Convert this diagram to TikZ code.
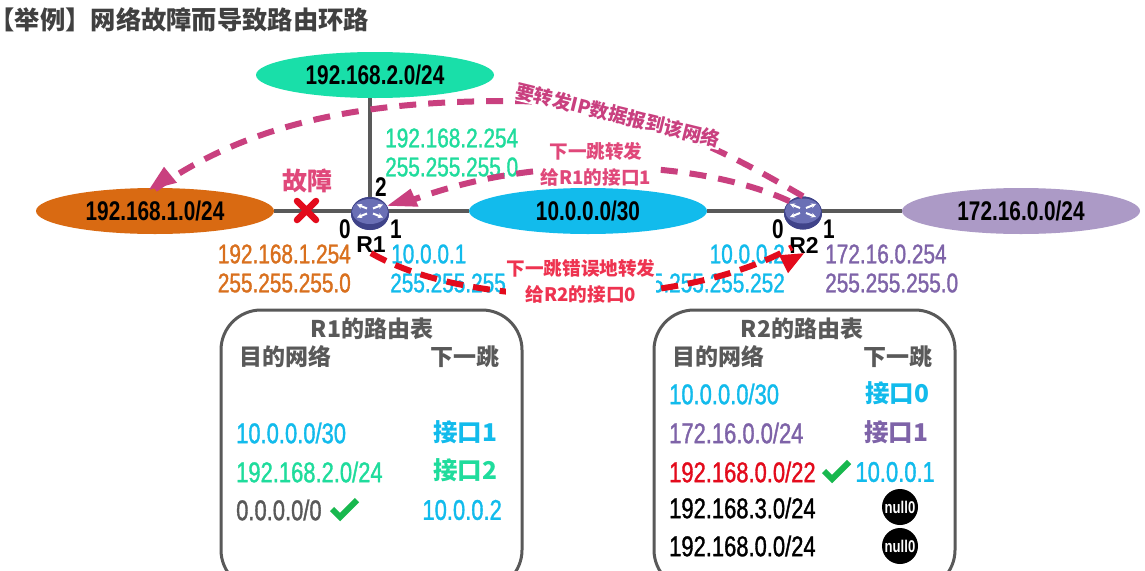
\documentclass[tikz,border=0pt]{standalone}
\usepackage{fontspec}
\setmainfont{Liberation Sans}
\newfontfamily\nar[FakeStretch=0.77]{Liberation Sans}
\newfontfamily\narm[FakeStretch=0.77,FakeBold=1.2]{Liberation Sans}
\newfontfamily\cjk{Noto Sans CJK SC}
\newfontfamily\cjkh[RawFeature=+halt]{Noto Sans CJK SC}
\usetikzlibrary{shapes.geometric,arrows.meta}
\definecolor{cgreen}{HTML}{19DFA9}
\definecolor{corange}{HTML}{D96A12}
\definecolor{cblue}{HTML}{12BBEC}
\definecolor{cpurple}{HTML}{AC9AC6}
\definecolor{tgreen}{HTML}{1FDC9C}
\definecolor{torange}{HTML}{D9701E}
\definecolor{tpurple}{HTML}{7E63A8}
\definecolor{cgray}{HTML}{595959}
\definecolor{cpink}{HTML}{C9407F}
\definecolor{lpink}{HTML}{E0487A}
\definecolor{cred}{HTML}{E30B1C}
\definecolor{lred}{HTML}{EE3350}
\definecolor{ctick}{HTML}{18B84E}
\definecolor{crouter}{HTML}{3F4389}
\definecolor{crouterb}{HTML}{6A6FB5}
\tikzset{
 x=1pt,y=-1pt,
 net/.style={ellipse,minimum width=238pt,minimum height=46pt,inner sep=0pt,text=black,font={\nar\fontsize{27}{27}\selectfont\bfseries}},
 wire/.style={draw=cgray,line width=4pt},
 iplabel/.style={anchor=west,inner sep=0pt,font={\narm\fontsize{27}{27}\selectfont}},
 iplabelr/.style={iplabel,anchor=east},
 rowlabel/.style={anchor=west,inner sep=0pt,font={\narm\fontsize{28.5}{28.5}\selectfont}},
 portnum/.style={inner sep=0pt,text=black,font={\nar\fontsize{27}{27}\selectfont\bfseries}},
 rname/.style={inner sep=0pt,text=black,font={\fontsize{23}{23}\selectfont\bfseries}},
 routerbody/.style={ellipse,minimum width=38pt,minimum height=33pt,inner sep=0pt,fill=crouter},
 tablebox/.style={draw=cgray,line width=3pt,rounded corners=40pt},
 thead/.style={inner sep=0pt,text=cgray,font={\cjk\fontsize{23}{23}\selectfont\bfseries}},
 port/.style={inner sep=0pt,font={\cjk\fontsize{24.5}{24.5}\selectfont\bfseries}},
 note/.style={fill=white,inner sep=1pt,align=center,font={\cjk\fontsize{18.6}{26}\selectfont\bfseries}},
 dashpink/.style={draw=cpink,line width=6pt,dash pattern=on 17pt off 12pt},
 dashred/.style={draw=cred,line width=6pt,dash pattern=on 17pt off 10pt},
 nullc/.style={circle,fill=black,minimum size=36pt,inner sep=0pt,text=white,font={\nar\fontsize{17}{17}\selectfont\bfseries}},
 tick/.style={draw=ctick,line width=6pt},
}
\newcommand{\tickmark}[2]{\draw[tick] (#1-12,#2) -- (#1-4,#2+8) -- (#1+13,#2-9);}
\newcommand{\routericon}[1]{%
 \fill[crouterb] ([yshift=2pt]#1.center) ellipse[x radius=18pt,y radius=12.5pt];
 \begin{scope}[shift={(#1.center)},draw=white,line width=2pt,-{Stealth[length=5pt,width=5pt]}]
  \draw (-3,-5) -- (-13,-9);
  \draw (3,-5) -- (13,-9);
  \draw (-3,0) -- (-13,4);
  \draw (3,0) -- (13,4);
 \end{scope}}
\begin{document}
\begin{tikzpicture}
\clip (0,0) rectangle (1145,570);
\fill[white] (0,0) rectangle (1145,570);
\node[anchor=west,inner sep=0pt,text=black!75,font={\cjk\fontsize{25.3}{25.3}\selectfont\bfseries}] (title) at (2,20) {{\cjkh\bfseries 【}举例】网络故障而导致路由环路};

% networks
\node[net,fill=cgreen] (n2) at (375,75) {192.168.2.0/24};
\node[net,fill=corange] (n1) at (155,211) {192.168.1.0/24};
\node[net,fill=cblue] (n10) at (588,211) {10.0.0.0/30};
\node[net,fill=cpurple] (n172) at (1021,211) {172.16.0.0/24};

% routers
\node[routerbody] (R1) at (370,213.5) {};
\node[routerbody] (R2) at (803,213) {};
\draw[wire] (n1) -- (R1 |- n1);
\draw[wire] (R1 |- n1) -- (n10);
\draw[wire] (n10) -- (R2 |- n10);
\draw[wire] (R2 |- n10) -- (n172);
\draw[wire] (R1 |- n1) -- (R1 |- n2.south);
\node[routerbody] at (R1) {};
\node[routerbody] at (R2) {};
\routericon{R1}
\routericon{R2}

% router names and ports
\node[rname] (R1n) at (371,245) {R1};
\node[rname] (R2n) at (804,245) {R2};
\node[portnum] at (381,187) {2};
\node[portnum] at (345,229) {0};
\node[portnum] at (396,229) {1};
\node[portnum] at (778,229) {0};
\node[portnum] at (829,229) {1};

% interface addresses
\node[iplabel,text=tgreen] at (385,138) {192.168.2.254};
\node[iplabel,text=tgreen] at (385,167) {255.255.255.0};
\node[iplabelr,text=torange] at (351,254) {192.168.1.254};
\node[iplabelr,text=torange] at (351,283) {255.255.255.0};
\node[iplabel,text=cblue] at (391,254) {10.0.0.1};
\node[iplabel,text=cblue] at (390,283) {255.255.255.252};
\node[iplabelr,text=cblue] at (785,254) {10.0.0.2};
\node[iplabelr,text=cblue] at (785,283) {255.255.255.252};
\node[iplabel,text=tpurple] at (825,254) {172.16.0.254};
\node[iplabel,text=tpurple] at (825,283) {255.255.255.0};

% failure mark
\node[inner sep=0pt,text=lpink,font={\cjk\fontsize{25}{25}\selectfont\bfseries}] (fail) at (307,181) {故障};
\draw[draw=cred,line width=6.5pt,line cap=round] (297,201) -- (316,220) (316,201) -- (297,220);

% arrows
\coordinate (mid) at (510,101);
\draw[dashpink] (R2.north) .. controls (740,160) and (640,101) .. (mid) .. controls (370,101) and (250,120) .. ([xshift=-5pt,yshift=-5pt]n1.north);
\fill[cpink] ([xshift=-6pt,yshift=-2pt]n1.north) -- ++(15,-23) -- ++(13,16) -- cycle;
\draw[dashpink] (R2.north west) .. controls (700,160) and (530,150) .. ([xshift=12pt,yshift=-5pt]R1.north east);
\fill[cpink] ([xshift=4pt,yshift=-4pt]R1.north east) -- ++(23,-17) -- ++(8,18) -- cycle;
\draw[dashred] (R1n.south) .. controls (470,310) and (680,310) .. ([xshift=-12pt,yshift=6pt]R2n.south);
\fill[cred] ([yshift=0pt]R2n.south) -- ++(-16,20) -- ++(-9,-18) -- cycle;

% arrow labels
\node[note,text=cpink,rotate=-13.8] (l1) at (618,115) {\fontsize{19}{24}\selectfont 要转发IP数据报到该网络};
\node[note,text=lpink] (l2) at (596,164) {下一跳转发\\给R1的接口1};
\node[note,text=lred] (l3) at (581,281) {下一跳错误地转发\\给R2的接口0};

% R1 table
\draw[tablebox] (221,310) rectangle (522,590);
\node[thead] at (372,329) {R1的路由表};
\node[thead] at (285,357) {目的网络};
\node[thead] at (465,357) {下一跳};
\node[rowlabel,text=cblue] at (236,433) {10.0.0.0/30};
\node[port,text=cblue] at (465,432) {接口1};
\node[rowlabel,text=tgreen] at (236,472) {192.168.2.0/24};
\node[port,text=tgreen] at (465,470) {接口2};
\node[rowlabel,text=cgray] at (236,510) {0.0.0.0/0};
\tickmark{344}{509}
\node[rowlabel,text=cblue,anchor=east] at (502,510) {10.0.0.2};

% R2 table
\draw[tablebox] (654,310) rectangle (955,590);
\node[thead] at (802,329) {R2的路由表};
\node[thead] at (718,357) {目的网络};
\node[thead] at (898,357) {下一跳};
\node[rowlabel,text=cblue] at (669,394) {10.0.0.0/30};
\node[port,text=cblue] at (897,393) {接口0};
\node[rowlabel,text=tpurple] at (669,433) {172.16.0.0/24};
\node[port,text=tpurple] at (896,432) {接口1};
\node[rowlabel,text=cred] at (669,472) {192.168.0.0/22};
\tickmark{836}{471}
\node[rowlabel,text=cblue,anchor=east] at (935,472) {10.0.0.1};
\node[rowlabel,text=black] at (669,508) {192.168.3.0/24};
\node[nullc] at (900,507) {null0};
\node[rowlabel,text=black] at (669,546) {192.168.0.0/24};
\node[nullc] at (900,546) {null0};
\end{tikzpicture}
\end{document}
